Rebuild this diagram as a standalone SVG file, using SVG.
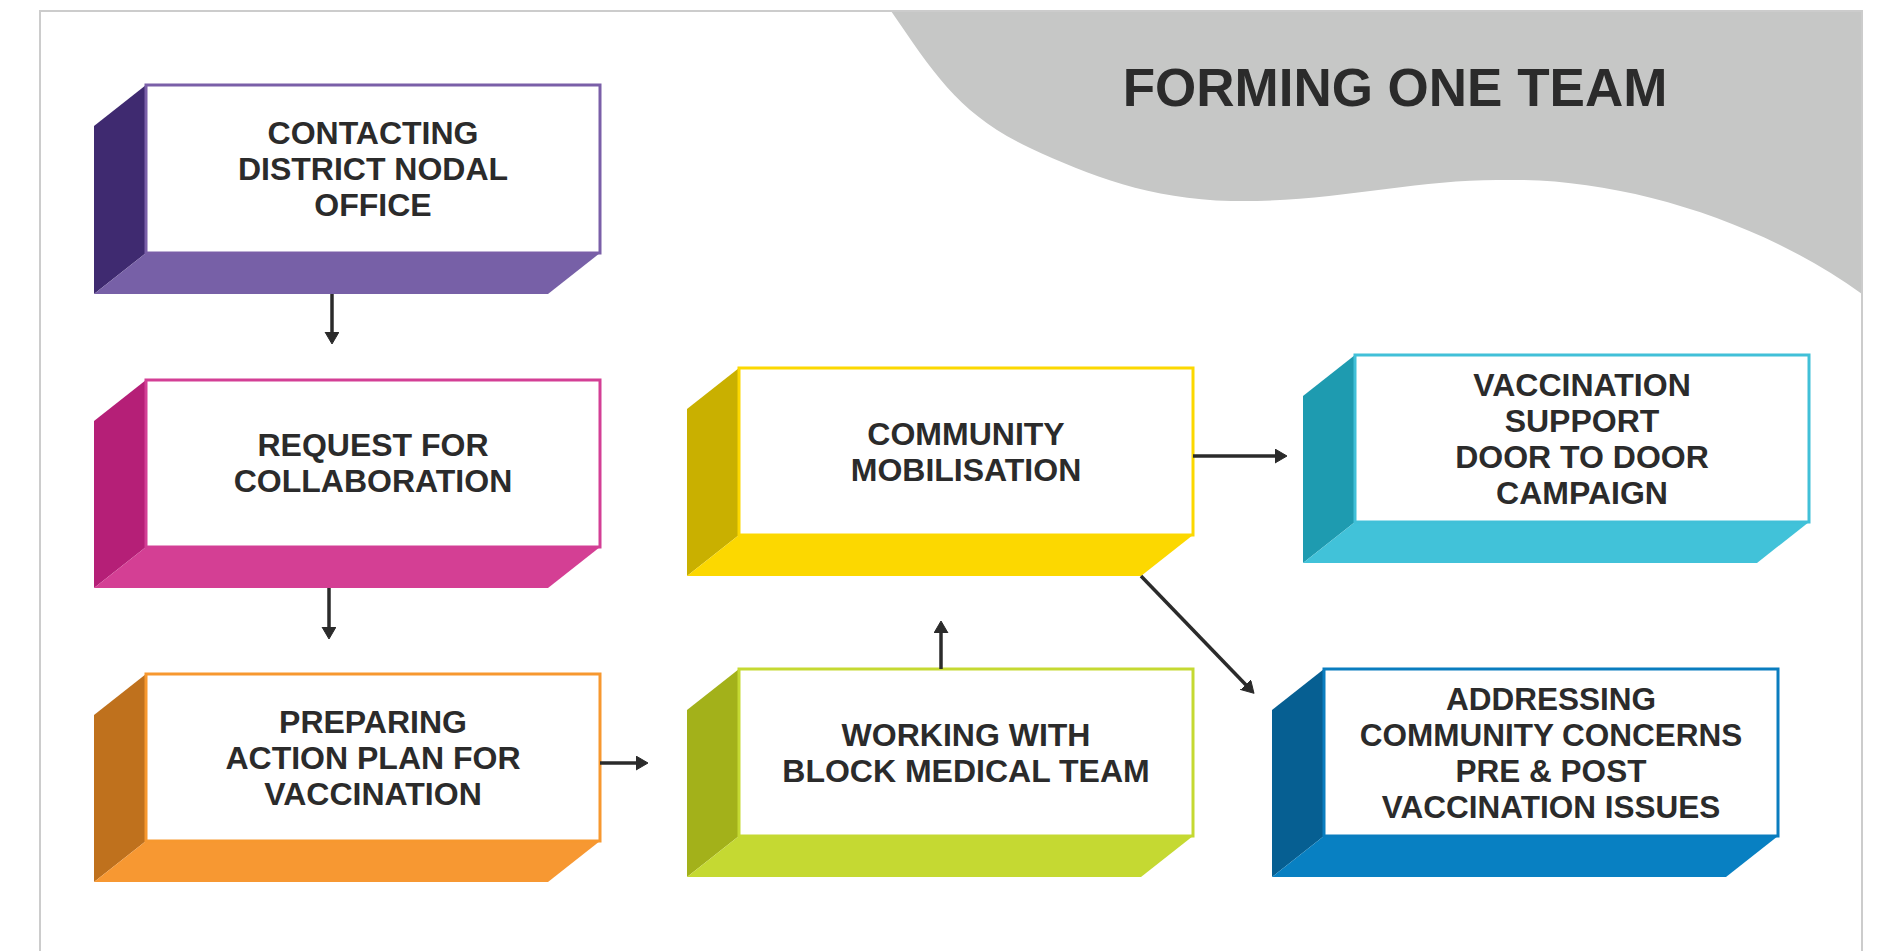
<svg xmlns="http://www.w3.org/2000/svg" width="1880" height="951" viewBox="0 0 1880 951">
<defs>
<style>
.lbl{font-family:"Liberation Sans",Arial,sans-serif;font-weight:bold;font-size:32px;fill:#2b2b2b;text-anchor:middle}
.front{fill:#ffffff;stroke-width:3}
.conn{stroke:#2b2b2b;stroke-width:3.5;fill:none;marker-end:url(#arr)}
</style>
<marker id="arr" markerUnits="userSpaceOnUse" markerWidth="16" markerHeight="16" refX="2" refY="7" orient="auto">
<path d="M0,0 L12,7 L0,14 Z" fill="#2b2b2b" stroke="#2b2b2b" stroke-width="1" stroke-linejoin="round"/>
</marker>
</defs>
<rect x="0" y="0" width="1880" height="951" fill="#ffffff"/>
<path id="wave" d="M891,11 C935,75 960,115 1030,148 C1090,176 1150,199 1231,201 C1330,203 1420,178 1507,180 C1620,178 1760,220 1862,294 L1862,11 Z" fill="#c6c7c6"/>
<rect id="frame" x="40" y="11" width="1822" height="960" fill="none" stroke="#cccccc" stroke-width="2"/>
<text x="1395" y="106" font-family="'Liberation Sans',Arial,sans-serif" font-weight="bold" font-size="53" fill="#2b2b2b" text-anchor="middle">FORMING ONE TEAM</text>

<g id="node-contacting">
<polygon points="146,85 94,126 94,294 146,253" fill="#3f2a70"/>
<polygon points="146,253 600,253 548,294 94,294" fill="#7760a7"/>
<rect class="front" x="146" y="85" width="454" height="168" stroke="#7a5fa8"/>
<text class="lbl"><tspan x="373" y="144">CONTACTING</tspan><tspan x="373" y="180">DISTRICT NODAL</tspan><tspan x="373" y="216">OFFICE</tspan></text>
</g>

<g id="node-request">
<polygon points="146,380 94,421 94,588 146,547" fill="#b51f77"/>
<polygon points="146,547 600,547 548,588 94,588" fill="#d43f94"/>
<rect class="front" x="146" y="380" width="454" height="167" stroke="#d33f95"/>
<text class="lbl"><tspan x="373" y="456">REQUEST FOR</tspan><tspan x="373" y="492">COLLABORATION</tspan></text>
</g>

<g id="node-preparing">
<polygon points="146,674 94,715 94,882 146,841" fill="#bf711d"/>
<polygon points="146,841 600,841 548,882 94,882" fill="#f79832"/>
<rect class="front" x="146" y="674" width="454" height="167" stroke="#f7982f"/>
<text class="lbl"><tspan x="373" y="733">PREPARING</tspan><tspan x="373" y="769">ACTION PLAN FOR</tspan><tspan x="373" y="805">VACCINATION</tspan></text>
</g>

<g id="node-community">
<polygon points="739,368 687,409 687,576 739,535" fill="#c9b000"/>
<polygon points="739,535 1193,535 1141,576 687,576" fill="#fcd800"/>
<rect class="front" x="739" y="368" width="454" height="167" stroke="#fcd800"/>
<text class="lbl"><tspan x="966" y="445">COMMUNITY</tspan><tspan x="966" y="481">MOBILISATION</tspan></text>
</g>

<g id="node-working">
<polygon points="739,669 687,710 687,877 739,836" fill="#a3b11a"/>
<polygon points="739,836 1193,836 1141,877 687,877" fill="#c5d932"/>
<rect class="front" x="739" y="669" width="454" height="167" stroke="#c5d932"/>
<text class="lbl"><tspan x="966" y="746">WORKING WITH</tspan><tspan x="966" y="782">BLOCK MEDICAL TEAM</tspan></text>
</g>

<g id="node-vaccination">
<polygon points="1355,355 1303,396 1303,563 1355,522" fill="#1e9bb0"/>
<polygon points="1355,522 1809,522 1757,563 1303,563" fill="#41c2d9"/>
<rect class="front" x="1355" y="355" width="454" height="167" stroke="#41c0d8"/>
<text class="lbl"><tspan x="1582" y="396">VACCINATION</tspan><tspan x="1582" y="432">SUPPORT</tspan><tspan x="1582" y="468">DOOR TO DOOR</tspan><tspan x="1582" y="504">CAMPAIGN</tspan></text>
</g>

<g id="node-addressing">
<polygon points="1324,669 1272,710 1272,877 1324,836" fill="#065f92"/>
<polygon points="1324,836 1778,836 1726,877 1272,877" fill="#0880c2"/>
<rect class="front" x="1324" y="669" width="454" height="167" stroke="#0a7dbf"/>
<text class="lbl" style="font-size:31.5px"><tspan x="1551" y="710">ADDRESSING</tspan><tspan x="1551" y="746">COMMUNITY CONCERNS</tspan><tspan x="1551" y="782">PRE &amp; POST</tspan><tspan x="1551" y="818">VACCINATION ISSUES</tspan></text>
</g>

<g id="connectors">
<line class="conn" x1="332" y1="294" x2="332" y2="334"/>
<line class="conn" x1="329" y1="588" x2="329" y2="629"/>
<line class="conn" x1="600" y1="763" x2="638" y2="763"/>
<line class="conn" x1="941" y1="669" x2="941" y2="631"/>
<line class="conn" x1="1193" y1="456" x2="1277" y2="456"/>
<line class="conn" x1="1141" y1="576" x2="1247" y2="686"/>
</g>
</svg>
